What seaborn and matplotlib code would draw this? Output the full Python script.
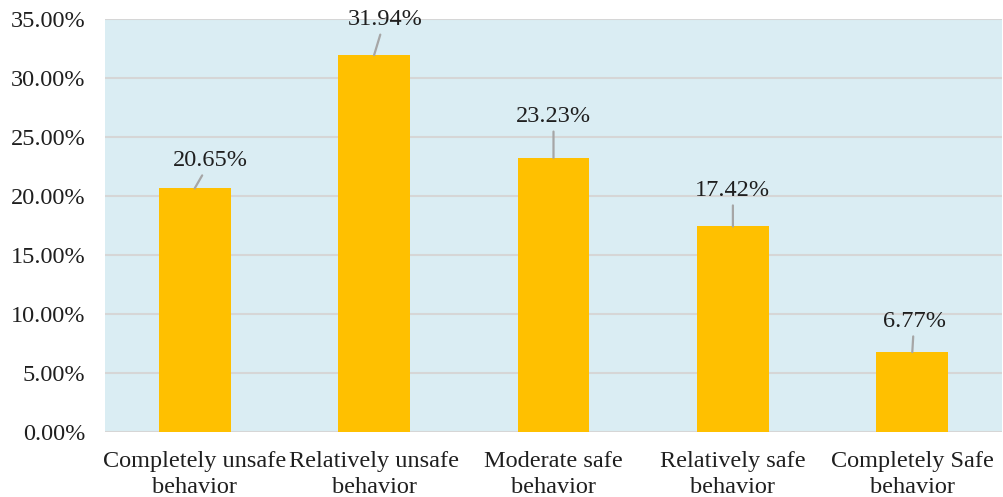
import pandas as pd
import matplotlib.pyplot as plt
import seaborn as sns
from matplotlib.ticker import FuncFormatter

categories = ['Completely unsafe\nbehavior', 'Relatively unsafe\nbehavior', 'Moderate safe\nbehavior',
              'Relatively safe\nbehavior', 'Completely Safe\nbehavior']
values = [20.65, 31.94, 23.23, 17.42, 6.77]
# callout offsets (x in category units, y in percent)
label_dx = [0.09, 0.06, 0.0, 0.0, 0.01]
label_dy = [1.9, 2.55, 3.05, 2.6, 2.15]

df = pd.DataFrame({'cat': categories, 'val': values})

sns.set_style('white')
plt.rcParams['font.family'] = ['Liberation Serif', 'DejaVu Serif']

fig = plt.figure(figsize=(10.04, 4.97), dpi=100)
ax = fig.add_axes([105 / 1004, 65 / 497, 897 / 1004, 413 / 497])
ax.set_facecolor('#DAEDF3')

sns.barplot(data=df, x='cat', y='val', color='#FFC000', width=0.4, saturation=1,
            edgecolor='none', linewidth=0, ax=ax, zorder=3)

ax.set_ylim(0, 35)
ax.set_yticks(range(0, 36, 5))
ax.yaxis.set_major_formatter(FuncFormatter(lambda v, p: f'{v:.2f}%'))
ax.grid(axis='y', color='#D6D6D6', linewidth=1.5, zorder=0)
ax.set_axisbelow(True)
for s in ax.spines.values():
    s.set_visible(False)
ax.tick_params(length=0, labelsize=17.5, colors='#1f1f1f')
ax.tick_params(axis='y', pad=14)
ax.tick_params(axis='x', pad=14)
for t in ax.get_xticklabels():
    t.set_linespacing(1.3)
ax.set_xlabel('')
ax.set_ylabel('')

for i, v in enumerate(values):
    ax.annotate(f'{v:.2f}%', xy=(i, v), xytext=(i + label_dx[i], v + label_dy[i]),
                ha='center', va='baseline', fontsize=17.5, color='#1f1f1f', annotation_clip=False,
                arrowprops=dict(arrowstyle='-', color='#A6A6A6', lw=1.6, shrinkA=1, shrinkB=0))

fig.savefig('out.png', dpi=100)
